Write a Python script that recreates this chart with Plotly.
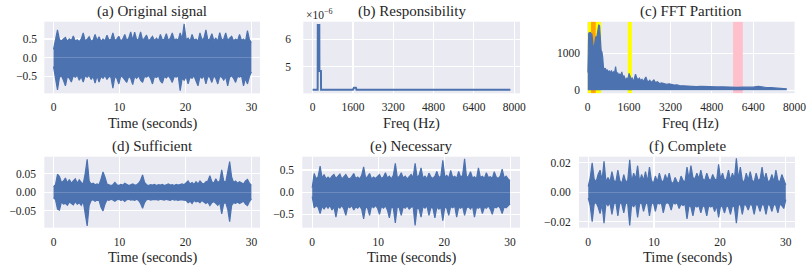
import numpy as np
import plotly.graph_objects as go

W, H = 810, 270
BLUE = "#4C72B0"
BG = "#EAEAF2"
FONT = "Liberation Serif"
TXT = "#262626"

# ---------------- data ----------------
time_s = np.linspace(0, 30, 101)   # sampling grid of the envelopes (s)

orig_hi = [0.22, 0.52, 0.74, 0.48, 0.45, 0.5, 0.54, 0.44, 0.5, 0.46, 0.58, 0.44, 0.48, 0.43, 0.5, 0.66,
           0.45, 0.49, 0.56, 0.44, 0.47, 0.62, 0.46, 0.56, 0.43, 0.5, 0.45, 0.6, 0.47, 0.49, 0.66, 0.46,
           0.5, 0.57, 0.44, 0.5, 0.62, 0.46, 0.52, 0.69, 0.47, 0.68, 0.48, 0.5, 0.69, 0.47, 0.52, 0.6,
           0.45, 0.5, 0.57, 0.46, 0.52, 0.46, 0.62, 0.47, 0.5, 0.64, 0.46, 0.52, 0.66, 0.48, 0.5, 0.47,
           0.66, 0.5, 0.9, 0.48, 0.52, 0.45, 0.62, 0.47, 0.5, 0.44, 0.66, 0.48, 0.52, 0.74, 0.47, 0.5,
           0.64, 0.46, 0.52, 0.45, 0.67, 0.48, 0.5, 0.66, 0.46, 0.52, 0.57, 0.45, 0.5, 0.46, 0.62, 0.46,
           0.5, 0.44, 0.72, 0.48, 0.4]
orig_lo = [-0.24, -0.55, -0.86, -0.52, -0.48, -0.6, -0.75, -0.5, -0.55, -0.65, -0.48, -0.52, -0.47, -0.6,
           -0.5, -0.65, -0.48, -0.52, -0.47, -0.58, -0.5, -0.68, -0.48, -0.65, -0.5, -0.55, -0.47, -0.58,
           -0.5, -0.52, -0.81, -0.5, -0.55, -0.7, -0.48, -0.52, -0.6, -0.66, -0.5, -0.55, -0.72, -0.5,
           -0.55, -0.48, -0.6, -0.66, -0.5, -0.52, -0.47, -0.55, -0.7, -0.5, -0.53, -0.48, -0.62, -0.68,
           -0.5, -0.54, -0.48, -0.55, -0.66, -0.5, -0.52, -0.48, -0.88, -0.55, -0.6, -0.5, -0.7, -0.52,
           -0.55, -0.48, -0.62, -0.75, -0.5, -0.55, -0.48, -0.7, -0.5, -0.52, -0.66, -0.48, -0.55, -0.7,
           -0.5, -0.52, -0.6, -0.5, -0.75, -0.52, -0.48, -0.55, -0.66, -0.5, -0.52, -0.48, -0.75, -0.55,
           -0.7, -0.5, -0.38]

suff_hi = [0.015, 0.02, 0.048, 0.042, 0.026, 0.03, 0.038, 0.025, 0.034, 0.024, 0.03, 0.036, 0.024, 0.033,
           0.026, 0.022, 0.05, 0.088, 0.03, 0.022, 0.024, 0.02, 0.022, 0.02, 0.035, 0.054, 0.04, 0.022,
           0.02, 0.018, 0.02, 0.026, 0.02, 0.018, 0.021, 0.019, 0.024, 0.02, 0.018, 0.02, 0.022, 0.019,
           0.02, 0.024, 0.032, 0.046, 0.026, 0.02, 0.018, 0.02, 0.019, 0.021, 0.018, 0.02, 0.019, 0.021,
           0.018, 0.02, 0.022, 0.019, 0.02, 0.018, 0.021, 0.019, 0.02, 0.022, 0.02, 0.024, 0.03, 0.022,
           0.026, 0.021, 0.028, 0.022, 0.03, 0.024, 0.022, 0.028, 0.03, 0.044, 0.028, 0.024, 0.036, 0.026,
           0.03, 0.06, 0.03, 0.026, 0.05, 0.082, 0.04, 0.026, 0.03, 0.024, 0.028, 0.025, 0.022, 0.03,
           0.034, 0.024, 0.018]
suff_lo = [-0.015, -0.02, -0.045, -0.048, -0.026, -0.032, -0.03, -0.035, -0.026, -0.03, -0.034, -0.025,
           -0.032, -0.028, -0.035, -0.024, -0.06, -0.09, -0.035, -0.022, -0.02, -0.024, -0.021, -0.022,
           -0.04, -0.05, -0.032, -0.02, -0.022, -0.019, -0.021, -0.024, -0.02, -0.019, -0.022, -0.02,
           -0.025, -0.02, -0.019, -0.021, -0.02, -0.022, -0.019, -0.022, -0.03, -0.043, -0.028, -0.02,
           -0.019, -0.021, -0.02, -0.019, -0.02, -0.021, -0.019, -0.02, -0.021, -0.019, -0.02, -0.022,
           -0.019, -0.021, -0.02, -0.022, -0.02, -0.021, -0.023, -0.022, -0.028, -0.024, -0.03, -0.022,
           -0.026, -0.024, -0.028, -0.022, -0.026, -0.03, -0.026, -0.036, -0.028, -0.025, -0.03, -0.035,
           -0.028, -0.058, -0.03, -0.028, -0.045, -0.079, -0.035, -0.028, -0.03, -0.026, -0.03, -0.026,
           -0.024, -0.032, -0.036, -0.025, -0.018]

nec_hi = [0.1, 0.42, 0.3, 0.35, 0.59, 0.32, 0.4, 0.3, 0.34, 0.3, 0.36, 0.4, 0.31, 0.35, 0.41, 0.3, 0.34,
          0.4, 0.32, 0.3, 0.35, 0.42, 0.31, 0.34, 0.3, 0.38, 0.57, 0.32, 0.35, 0.42, 0.3, 0.34, 0.31, 0.36,
          0.4, 0.31, 0.34, 0.44, 0.32, 0.36, 0.3, 0.38, 0.65, 0.33, 0.35, 0.44, 0.32, 0.36, 0.3, 0.35, 0.4,
          0.33, 0.65, 0.34, 0.38, 0.55, 0.32, 0.36, 0.3, 0.43, 0.34, 0.31, 0.36, 0.47, 0.33, 0.36, 0.72,
          0.34, 0.38, 0.32, 0.49, 0.33, 0.36, 0.31, 0.47, 0.34, 0.38, 0.75, 0.33, 0.36, 0.46, 0.32, 0.35,
          0.3, 0.55, 0.33, 0.36, 0.31, 0.44, 0.33, 0.35, 0.31, 0.46, 0.34, 0.31, 0.36, 0.52, 0.32, 0.36,
          0.3, 0.26]
nec_lo = [-0.1, -0.35, -0.3, -0.34, -0.48, -0.32, -0.38, -0.31, -0.36, -0.3, -0.4, -0.33, -0.56, -0.32,
          -0.36, -0.3, -0.38, -0.52, -0.32, -0.35, -0.3, -0.4, -0.33, -0.36, -0.31, -0.38, -0.6, -0.33,
          -0.36, -0.52, -0.31, -0.35, -0.3, -0.36, -0.5, -0.32, -0.36, -0.31, -0.4, -0.58, -0.33, -0.36,
          -0.69, -0.32, -0.35, -0.52, -0.33, -0.36, -0.31, -0.38, -0.34, -0.32, -0.75, -0.35, -0.38, -0.56,
          -0.32, -0.36, -0.31, -0.52, -0.34, -0.36, -0.58, -0.33, -0.38, -0.34, -0.64, -0.33, -0.36, -0.52,
          -0.32, -0.35, -0.31, -0.56, -0.34, -0.36, -0.32, -0.52, -0.35, -0.33, -0.38, -0.31, -0.56, -0.34,
          -0.36, -0.32, -0.48, -0.34, -0.36, -0.31, -0.38, -0.5, -0.33, -0.35, -0.31, -0.36, -0.48, -0.33,
          -0.35, -0.3, -0.26]

comp_hi = [0.004, 0.0097, 0.02, 0.009, 0.007, 0.012, 0.015, 0.008, 0.021, 0.007, 0.01, 0.007, 0.014,
           0.008, 0.007, 0.015, 0.008, 0.006, 0.012, 0.007, 0.008, 0.022, 0.007, 0.013, 0.009, 0.018,
           0.007, 0.012, 0.008, 0.014, 0.007, 0.017, 0.008, 0.006, 0.011, 0.007, 0.013, 0.008, 0.007,
           0.012, 0.008, 0.013, 0.007, 0.006, 0.01, 0.007, 0.006, 0.011, 0.008, 0.007, 0.017, 0.009,
           0.018, 0.01, 0.009, 0.013, 0.009, 0.015, 0.009, 0.008, 0.013, 0.009, 0.008, 0.012, 0.009,
           0.008, 0.019, 0.009, 0.013, 0.008, 0.009, 0.015, 0.008, 0.013, 0.009, 0.023, 0.009, 0.017,
           0.008, 0.007, 0.013, 0.008, 0.014, 0.008, 0.007, 0.013, 0.008, 0.009, 0.017, 0.008, 0.013,
           0.007, 0.008, 0.012, 0.007, 0.015, 0.008, 0.007, 0.012, 0.008, 0.005]
comp_lo = [-0.004, -0.009, -0.02, -0.008, -0.007, -0.01, -0.0145, -0.008, -0.021, -0.007, -0.009, -0.007,
           -0.015, -0.008, -0.007, -0.016, -0.007, -0.008, -0.014, -0.007, -0.008, -0.0225, -0.008, -0.01,
           -0.007, -0.017, -0.008, -0.007, -0.013, -0.008, -0.007, -0.016, -0.008, -0.007, -0.013, -0.007,
           -0.008, -0.007, -0.014, -0.008, -0.007, -0.008, -0.012, -0.007, -0.008, -0.007, -0.011, -0.008,
           -0.009, -0.008, -0.018, -0.009, -0.01, -0.016, -0.009, -0.01, -0.009, -0.014, -0.009, -0.01,
           -0.016, -0.009, -0.01, -0.009, -0.013, -0.009, -0.017, -0.009, -0.01, -0.014, -0.009, -0.01,
           -0.015, -0.009, -0.01, -0.021, -0.009, -0.008, -0.015, -0.008, -0.009, -0.012, -0.008, -0.009,
           -0.015, -0.008, -0.009, -0.013, -0.008, -0.009, -0.015, -0.008, -0.009, -0.013, -0.008, -0.009,
           -0.014, -0.008, -0.009, -0.011, -0.005]

resp_freq = [0, 200, 205, 265, 270, 330, 335, 1600, 1640, 1720, 1740, 7850]
resp_val = [4.17, 4.17, 6.52, 6.52, 4.85, 4.85, 4.17, 4.17, 4.24, 4.24, 4.17, 4.17]   # x 1e-6

fft_freq = [0, 20, 40, 70, 100, 130, 160, 190, 220, 250, 280, 310, 340, 370, 400, 430, 460, 490, 520,
            550, 580, 610, 640, 680, 720, 760, 800, 840, 880, 920, 960, 1000, 1040, 1080, 1120, 1160,
            1200, 1240, 1280, 1320, 1360, 1400, 1440, 1480, 1520, 1560, 1600, 1640, 1680, 1720, 1760,
            1800, 1850, 1900, 1950, 2000, 2050, 2100, 2150, 2200, 2250, 2300, 2350, 2400, 2450, 2500,
            2560, 2620, 2700, 2780, 2860, 2950, 3050, 3150, 3250, 3350, 3450, 3550, 3700, 3850, 4000,
            4200, 4400, 4600, 4800, 5000, 5200, 5400, 5600, 5800, 6000, 6200, 6400, 6600, 6700, 6900,
            7100, 7300, 7500, 7700]
fft_mag = [480, 1200, 1560, 1540, 1580, 1480, 1540, 1350, 1120, 1150, 1300, 1460, 1380, 1500, 1700, 1780,
           1740, 1200, 1080, 1040, 900, 620, 560, 600, 520, 560, 490, 520, 470, 540, 440, 500, 470, 640,
           430, 480, 400, 450, 380, 500, 360, 400, 300, 260, 340, 300, 460, 380, 300, 330, 260, 300, 440,
           330, 280, 330, 260, 300, 240, 300, 360, 260, 230, 270, 220, 240, 280, 210, 230, 180, 200, 185,
           160, 175, 160, 140, 150, 125, 120, 110, 115, 100, 105, 95, 100, 90, 95, 85, 90, 80, 85, 80, 85,
           105, 90, 75, 70, 60, 50, 40]

# partition bands in panel (c): (start Hz, end Hz, colour)
band_start = [0, 130, 1550, 5625]
band_end = [520, 310, 1710, 6000]
band_color = ["#FFFF00", "#FFA500", "#FFFF00", "#FFC0CB"]

titles = ["(a) Original signal", "(b) Responsibility", "(c) FFT Partition",
          "(d) Sufficient", "(e) Necessary", "(f) Complete"]
xtitles = ["Time (seconds)", "Freq (Hz)", "Freq (Hz)",
           "Time (seconds)", "Time (seconds)", "Time (seconds)"]

# ---------------- layout geometry (pixels) ----------------
panels = [  # left, right, top, bottom
    (44.3, 260.0, 21.7, 93.3),
    (303.3, 520.0, 21.7, 93.3),
    (587.3, 794.5, 21.7, 93.3),
    (44.3, 260.0, 156.7, 227.7),
    (302.3, 520.0, 156.7, 227.7),
    (579.0, 795.0, 156.7, 227.7),
]
xranges = [[-1.4, 31.3], [-370, 8230], [-15, 8000], [-1.4, 31.3], [-1.5, 31.5], [-1.4, 31.4]]
yranges = [[-0.95, 0.96], [4.04, 6.64], [-82, 1861], [-0.095, 0.095], [-0.8, 0.8], [-0.024, 0.0241]]
time_ticks = [0, 10, 20, 30]
freq_ticks = [0, 1600, 3200, 4800, 6400, 8000]
xtickvals = [time_ticks, freq_ticks, freq_ticks, time_ticks, time_ticks, time_ticks]
ytickvals = [[-0.5, 0, 0.5], [5, 6], [0, 1000], [-0.05, 0, 0.05], [-0.5, 0, 0.5], [-0.02, 0, 0.02]]
yticktext = [["\u22120.5", "0.0", "0.5"], ["5", "6"], ["0", "1000"],
             ["\u22120.05", "0.00", "0.05"], ["\u22120.5", "0.0", "0.5"], ["\u22120.02", "0.00", "0.02"]]
ytick_len = [4, 9, 4, 5, 5, 5]

fig = go.Figure()

def axes_of(k):
    sfx = "" if k == 0 else str(k + 1)
    return "x" + sfx, "y" + sfx

def add_line(k, x, y, fill=None, width=1.3):
    xa, ya = axes_of(k)
    fig.add_trace(go.Scatter(
        x=x, y=y, mode="lines", line=dict(color=BLUE, width=width),
        fill=fill, fillcolor=BLUE if fill else None,
        xaxis=xa, yaxis=ya, showlegend=False, hoverinfo="skip"))

# partition bands (drawn as filled traces, under the spectrum)
ylo, yhi = yranges[2]
for s, e, c in zip(band_start, band_end, band_color):
    fig.add_trace(go.Scatter(x=[s, e, e, s, s], y=[ylo, ylo, yhi, yhi, ylo], mode="lines",
                             fill="toself", fillcolor=c, line=dict(width=0, color=c),
                             xaxis="x3", yaxis="y3", showlegend=False, hoverinfo="skip"))

# time-domain panels: upper & lower envelopes
for k, (hi, lo) in zip([0, 3, 4, 5], [(orig_hi, orig_lo), (suff_hi, suff_lo),
                                        (nec_hi, nec_lo), (comp_hi, comp_lo)]):
    add_line(k, time_s, hi, fill="tozeroy", width=1.2)
    add_line(k, time_s, lo, fill="tozeroy", width=1.2)

add_line(1, resp_freq, resp_val, width=2)
add_line(2, fft_freq, fft_mag, fill="tozeroy", width=1.2)

layout = dict(width=W, height=H, margin=dict(l=0, r=0, t=0, b=0, pad=0), autosize=False,
              paper_bgcolor="white", plot_bgcolor=BG, showlegend=False,
              font=dict(family=FONT, color=TXT, size=11))

annotations = []
for k, (l, r, t, b) in enumerate(panels):
    sfx = "" if k == 0 else str(k + 1)
    axis_common = dict(showgrid=True, gridcolor="white", gridwidth=1.2, zeroline=False,
                       showline=False, ticks="outside", tickcolor="rgba(0,0,0,0)",
                       automargin=False,
                       tickfont=dict(family=FONT, size=11.5, color=TXT))
    layout["xaxis" + sfx] = dict(axis_common, domain=[l / W, r / W], anchor="y" + sfx,
                                 range=xranges[k], tickvals=xtickvals[k],
                                 ticktext=[str(v) for v in xtickvals[k]], ticklen=3)
    layout["yaxis" + sfx] = dict(axis_common, domain=[1 - b / H, 1 - t / H], anchor="x" + sfx,
                                 range=yranges[k], tickvals=ytickvals[k], ticktext=yticktext[k],
                                 ticklen=ytick_len[k])
    cx = (l + r) / 2 / W
    annotations.append(dict(text=titles[k], x=cx, y=1 - (t - 10.5) / H, xref="paper", yref="paper",
                            xanchor="center", yanchor="middle", showarrow=False,
                            font=dict(family=FONT, size=15, color=TXT)))
    annotations.append(dict(text=xtitles[k], x=cx, y=1 - (b + 30) / H, xref="paper", yref="paper",
                            xanchor="center", yanchor="middle", showarrow=False,
                            font=dict(family=FONT, size=14.5, color=TXT)))

annotations.append(dict(text="\u00d710<sup>\u22126</sup>", x=304 / W, y=1 - 14 / H, xref="paper",
                        yref="paper", xanchor="left", yanchor="middle", showarrow=False,
                        font=dict(family=FONT, size=11.5, color=TXT)))
layout["annotations"] = annotations

fig.update_layout(**layout)
fig.write_html("out.html", config={"displayModeBar": False, "staticPlot": True},
               post_script="document.body.style.margin='0px';document.body.style.padding='0px';")
